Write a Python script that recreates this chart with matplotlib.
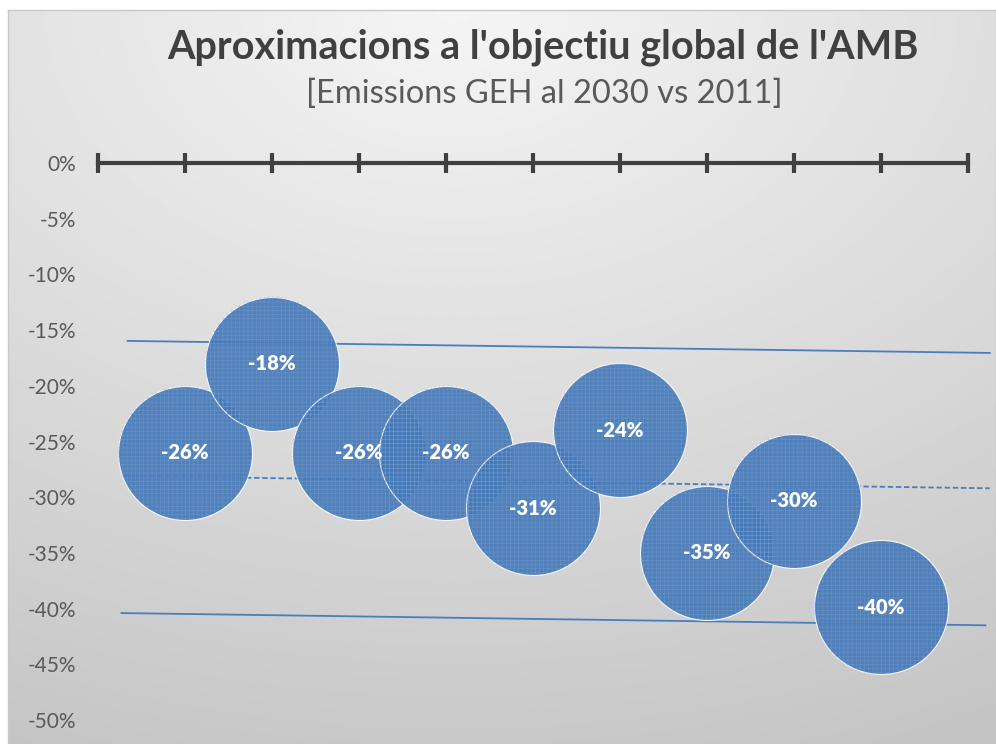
import numpy as np
import matplotlib.pyplot as plt

plt.rcParams['font.family'] = ['Lato', 'DejaVu Sans']

# bubble data
x_pos = [1, 2, 3, 4, 5, 6, 7, 8, 9]
values = [-26, -18, -26, -26, -31, -24, -35, -30.3, -39.9]
labels = ['-26%', '-18%', '-26%', '-26%', '-31%', '-24%', '-35%', '-30%', '-40%']

# reference lines (start, end)
upper_x = [0.34, 10.25]
upper_y = [-15.97, -17.05]
mid_x = [0.3, 10.25]
mid_y = [-28.1, -29.2]
lower_x = [0.27, 10.2]
lower_y = [-40.4, -41.5]

yticks = [0, -5, -10, -15, -20, -25, -30, -35, -40, -45, -50]

fig = plt.figure(figsize=(9.96, 7.44), dpi=100)
fig.patch.set_facecolor('white')

# gradient background
bg = fig.add_axes([8 / 996, 0, 1 - 8 / 996, 1 - 10 / 744])
yy, xx = np.mgrid[0:1:300j, 0:1:400j]
d = np.sqrt(((xx - 0.45) * 1.0) ** 2 + ((yy - 0.0) * 1.1) ** 2)
shade = 0.96 - 0.19 * np.clip(d, 0, 1.2) / 1.2
bg.imshow(shade, cmap='gray', vmin=0, vmax=1, aspect='auto', extent=[0, 1, 1, 0])
bg.set_xticks([])
bg.set_yticks([])
for s in bg.spines.values():
    s.set_color('#c8c8c8')
    s.set_linewidth(1)
bg.set_zorder(0)

ax = fig.add_axes([98 / 996, 24 / 744, 870 / 996, 557 / 744])
ax.set_zorder(1)
ax.patch.set_alpha(0)
ax.set_xlim(0, 10)
ax.set_ylim(-50, 0)

ax.plot(upper_x, upper_y, color='#4a7ebb', lw=1.3, clip_on=False, zorder=2)
ax.plot(mid_x, mid_y, color='#4a7ebb', lw=1.3, ls=(0, (3, 1.5)), clip_on=False, zorder=2)
ax.plot(lower_x, lower_y, color='#4a7ebb', lw=1.3, clip_on=False, zorder=2)

plt.rcParams['hatch.linewidth'] = 0.4
ax.scatter(x_pos, values, s=9300, color='#4679b8', alpha=0.92,
           edgecolors='white', linewidths=0.8, clip_on=False, zorder=3)
ax.scatter(x_pos, values, s=9300, facecolors='none', edgecolors='#7ea4d4',
           hatch='++++', linewidths=0, clip_on=False, zorder=3, alpha=0.5)

for x, v, t in zip(x_pos, values, labels):
    ax.text(x, v, t, ha='center', va='center', color='white',
            fontsize=14.5, fontweight='heavy', zorder=5)

# x axis at y=0
ax.spines['top'].set_position(('data', 0))
ax.spines['top'].set_color('#404040')
ax.spines['top'].set_linewidth(3)
for s in ['left', 'right', 'bottom']:
    ax.spines[s].set_visible(False)
ax.xaxis.set_ticks_position('top')
ax.set_xticks(range(0, 11))
ax.set_xticklabels([])
ax.tick_params(axis='x', direction='inout', length=14, width=3, color='#404040')

ax.set_yticks(yticks)
ax.set_yticklabels([f'{t}%' for t in yticks])
ax.tick_params(axis='y', length=0, pad=16, labelsize=15, labelcolor='#595959')

fig.text(0.545, 0.937, "Aproximacions a l'objectiu global de l'AMB",
         ha='center', va='center', fontsize=28.5, fontweight='bold', color='#404040')
fig.text(0.546, 0.874, "[Emissions GEH al 2030 vs 2011]",
         ha='center', va='center', fontsize=23.5, color='#595959')

fig.savefig('out.png', dpi=100)
